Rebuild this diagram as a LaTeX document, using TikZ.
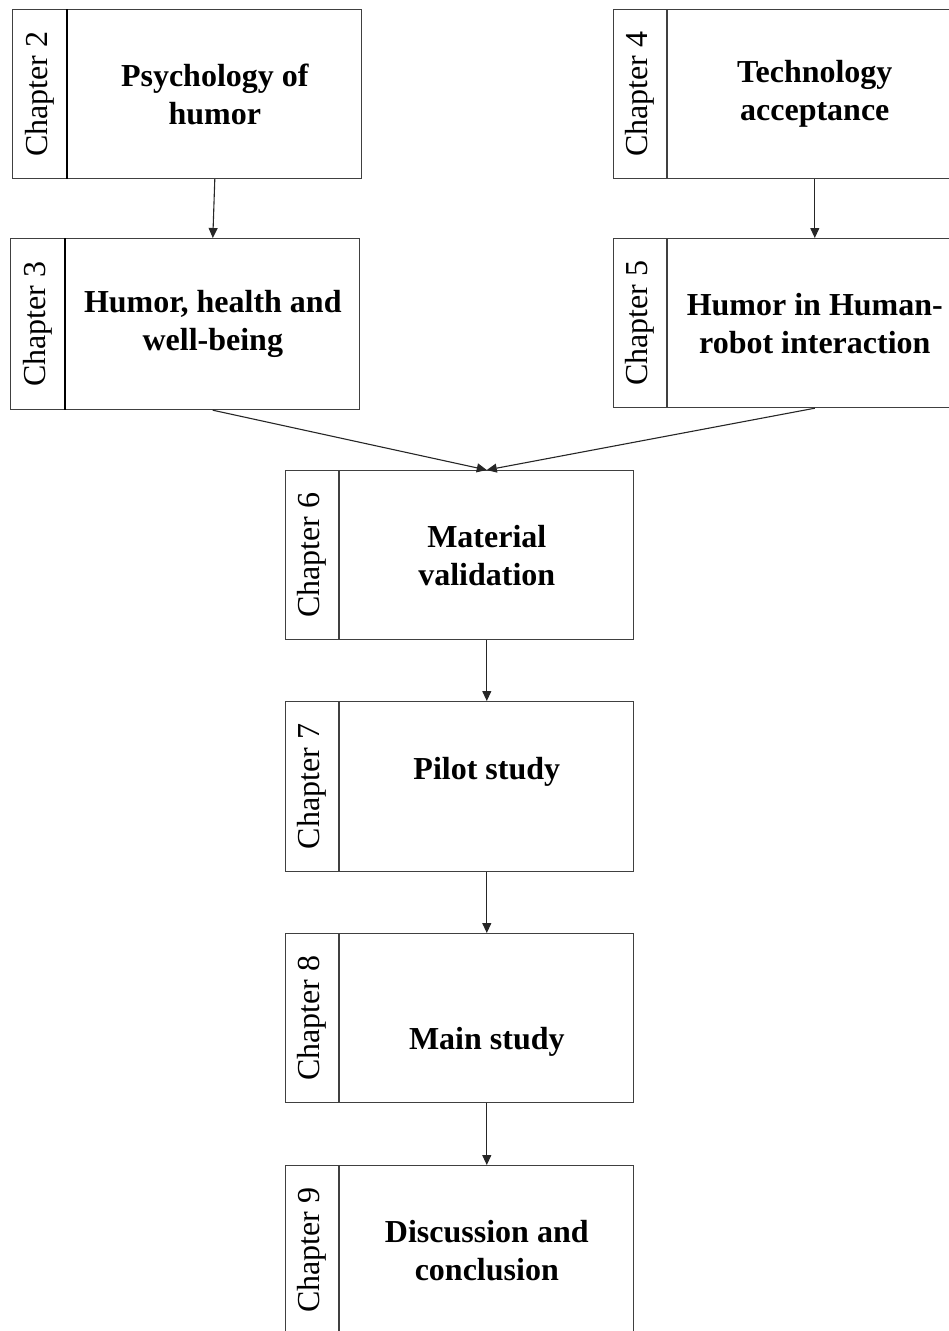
\documentclass[tikz,border=0pt]{standalone}
\usepackage{fontspec}
\setmainfont{Liberation Serif}
\usetikzlibrary{arrows.meta}
\tikzset{
  frame/.style={draw=black!75, line width=1.2pt, rectangle, inner sep=0pt, minimum height=169pt},
  tab/.style={frame, minimum width=54pt, anchor=north west, font=\fontsize{32}{38}\selectfont},
  body/.style={frame, minimum width=294pt, anchor=north west, align=center,
               font=\bfseries\fontsize{32}{38}\selectfont},
  heavy/.style={line width=2pt, draw=black},
  flow/.style={draw=black!85, line width=1.1pt, -{Triangle[length=10pt,width=9pt]}}
}
\newcommand{\chaplabel}[1]{\rotatebox{90}{Chapter #1}}
\newcommand{\blankline}{\vphantom{Mg}}
\begin{document}
\begin{tikzpicture}[x=1pt,y=-1pt]
  \path[use as bounding box, clip] (0,0) rectangle (949,1331);

  % left column
  \node[tab] (c2t) at (12,9) {\chaplabel{2}};
  \node[body] (c2) at (c2t.north east) {Psychology of\\humor};
  \draw[heavy] (c2t.north east) -- (c2t.south east);

  \node[tab, minimum height=171pt] (c3t) at (10,238) {\chaplabel{3}};
  \node[body, minimum height=171pt] (c3) at (c3t.north east) {Humor, health and\\well-being};
  \draw[heavy] (c3t.north east) -- (c3t.south east);

  % right column
  \node[tab, minimum width=53pt] (c4t) at (613,9) {\chaplabel{4}};
  \node[body] (c4) at (c4t.north east) {Technology\\acceptance};

  \node[tab, minimum width=53pt] (c5t) at (613,238) {\chaplabel{5}};
  \node[body] (c5) at (c5t.north east) {Humor in Human-\\robot interaction};

  % central chain
  \node[tab, minimum width=53pt] (c6t) at (285,470) {\chaplabel{6}};
  \node[body] (c6) at (c6t.north east) {Material\\validation};

  \node[tab, minimum width=53pt, minimum height=170pt] (c7t) at (285,701) {\chaplabel{7}};
  \node[body, minimum height=170pt] (c7) at (c7t.north east) {Pilot study\\[-8pt]\blankline};

  \node[tab, minimum width=53pt] (c8t) at (285,933) {\chaplabel{8}};
  \node[body] (c8) at (c8t.north east) {\blankline\\[10pt]Main study};

  \node[tab, minimum width=53pt] (c9t) at (285,1165) {\chaplabel{9}};
  \node[body] (c9) at (c9t.north east) {Discussion and\\conclusion};

  % connectors
  \draw[flow] (c2.south) -- (c3.north);
  \draw[flow] (c4.south) -- (c5.north);
  \draw[flow] (c3.south) -- (c6.north);
  \draw[flow] (c5.south) -- (c6.north);
  \draw[flow] (c6.south) -- (c7.north);
  \draw[flow] (c7.south) -- (c8.north);
  \draw[flow] (c8.south) -- (c9.north);
\end{tikzpicture}
\end{document}
